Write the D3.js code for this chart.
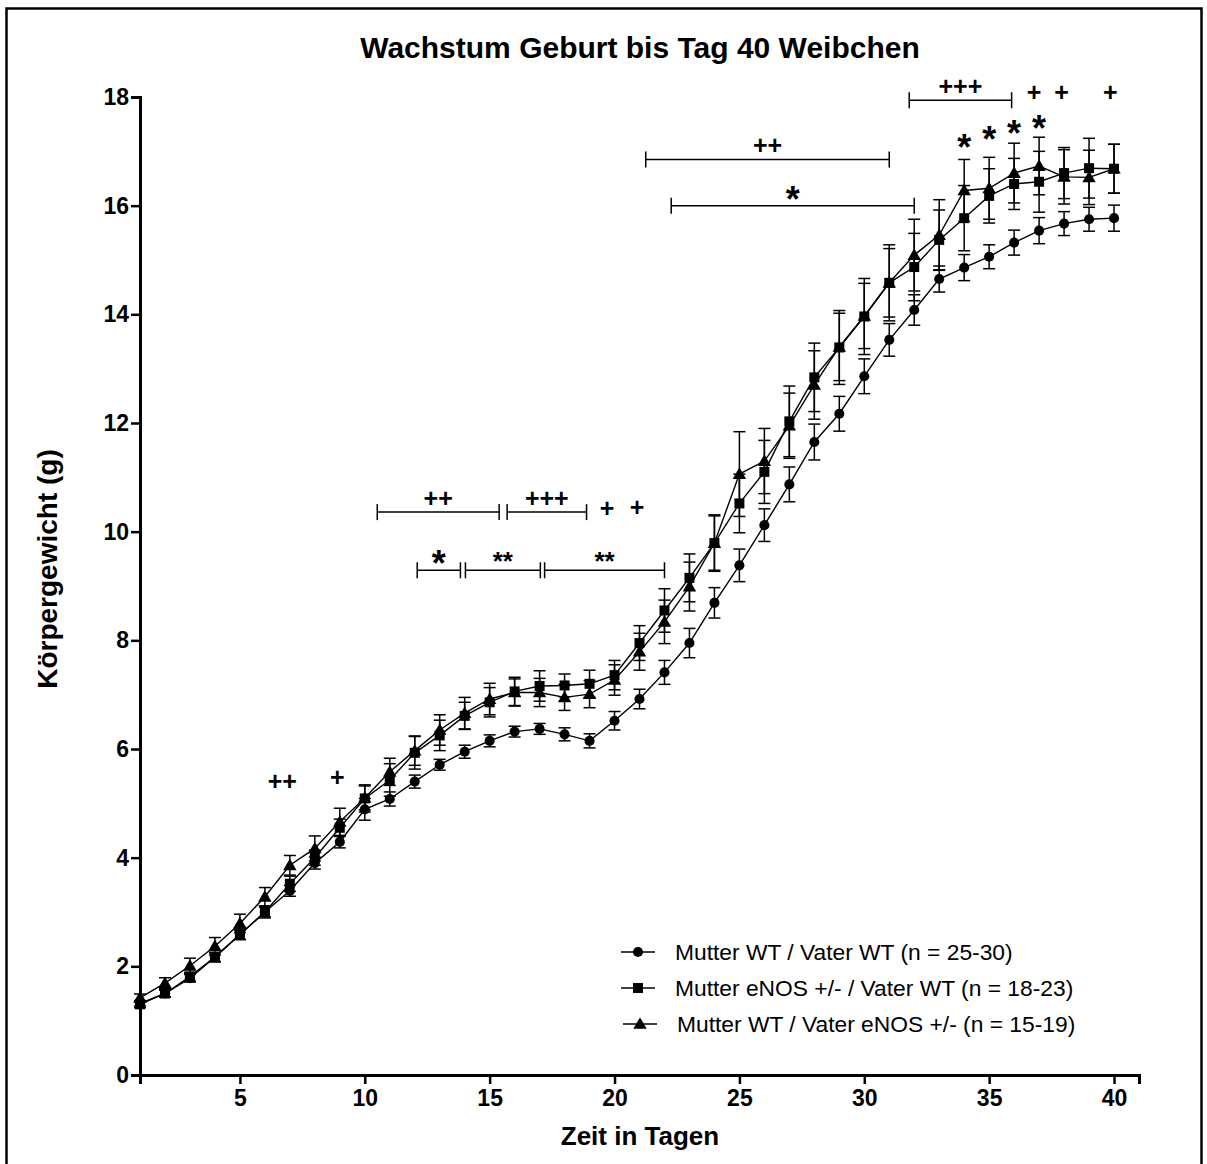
<!DOCTYPE html>
<html>
<head>
<meta charset="utf-8">
<script src="https://cdn.jsdelivr.net/npm/d3@7"></script>
<style>
  body { margin: 0; background: white; }
  text { font-family: "Liberation Sans", Arial, sans-serif; fill: black; }
</style>
</head>
<body>
<svg></svg>
<script>
const width = 1207
const height = 1164

const days = d3.range(1, 41)

const wt_mean = [1.32, 1.5, 1.78, 2.17, 2.58, 3.0, 3.39, 3.9, 4.29, 4.89,
  5.08, 5.4, 5.71, 5.95, 6.15, 6.32, 6.37, 6.27, 6.15, 6.52,
  6.92, 7.41, 7.95, 8.69, 9.38, 10.12, 10.87, 11.65, 12.17, 12.86,
  13.53, 14.08, 14.65, 14.86, 15.06, 15.32, 15.54, 15.67, 15.75, 15.77]
const wt_sem = [0.05, 0.06, 0.07, 0.08, 0.08, 0.09, 0.1, 0.11, 0.11, 0.2,
  0.13, 0.12, 0.1, 0.12, 0.11, 0.1, 0.1, 0.12, 0.13, 0.17,
  0.18, 0.22, 0.27, 0.28, 0.3, 0.3, 0.32, 0.33, 0.32, 0.32,
  0.3, 0.28, 0.24, 0.24, 0.22, 0.23, 0.24, 0.22, 0.22, 0.24]

const mother_mean = [1.3, 1.5, 1.81, 2.17, 2.59, 3.0, 3.52, 4.0, 4.55, 5.09,
  5.43, 5.93, 6.25, 6.61, 6.86, 7.06, 7.16, 7.17, 7.2, 7.36,
  7.95, 8.55, 9.15, 9.79, 10.52, 11.1, 12.03, 12.84, 13.39, 13.96,
  14.58, 14.87, 15.37, 15.77, 16.18, 16.4, 16.44, 16.6, 16.69, 16.68]
const mother_sem = [0.06, 0.07, 0.08, 0.09, 0.1, 0.11, 0.14, 0.14, 0.16, 0.25,
  0.3, 0.3, 0.28, 0.25, 0.27, 0.26, 0.28, 0.21, 0.25, 0.27,
  0.32, 0.4, 0.44, 0.5, 0.54, 0.58, 0.65, 0.63, 0.68, 0.7,
  0.7, 0.62, 0.55, 0.6, 0.5, 0.47, 0.56, 0.47, 0.55, 0.45]

const father_mean = [1.42, 1.69, 2.01, 2.37, 2.79, 3.28, 3.86, 4.17, 4.66, 5.1,
  5.58, 5.97, 6.35, 6.66, 6.92, 7.04, 7.04, 6.95, 7.01, 7.27,
  7.79, 8.34, 8.99, 9.79, 11.06, 11.3, 11.95, 12.7, 13.4, 13.97,
  14.58, 15.09, 15.46, 16.28, 16.32, 16.6, 16.73, 16.53, 16.52, 16.68]
const father_sem = [0.07, 0.1, 0.14, 0.16, 0.17, 0.17, 0.18, 0.23, 0.25, 0.22,
  0.25, 0.27, 0.28, 0.29, 0.29, 0.25, 0.26, 0.24, 0.25, 0.28,
  0.34, 0.4, 0.45, 0.52, 0.78, 0.6, 0.6, 0.63, 0.62, 0.6,
  0.63, 0.66, 0.65, 0.57, 0.57, 0.55, 0.53, 0.5, 0.5, 0.45]

const series_names = ["Mutter WT / Vater WT (n = 25-30)",
  "Mutter eNOS +/- / Vater WT (n = 18-23)",
  "Mutter WT / Vater eNOS +/- (n = 15-19)"]
const series_symbols = ["circle", "square", "triangle"]

const x_ticks = [5, 10, 15, 20, 25, 30, 35, 40]
const y_ticks = [0, 2, 4, 6, 8, 10, 12, 14, 16, 18]

// significance brackets: [from day, to day, level in g, label]
const brackets = [
  [10.5, 15.38, 10.36, "++"],
  [15.7, 18.88, 10.36, "+++"],
  [12.1, 13.83, 9.29, "*"],
  [14.03, 17.03, 9.29, "**"],
  [17.2, 22.0, 9.29, "**"],
  [21.25, 31.0, 16.85, "++"],
  [22.27, 32.0, 16.0, "*"],
  [31.8, 35.9, 17.94, "+++"]
]
// single marks: [day, level in g, label]
const marks = [
  [6.7, 5.25, "++"], [8.9, 5.31, "+"],
  [19.7, 10.27, "+"], [20.9, 10.29, "+"],
  [36.8, 17.92, "+"], [37.9, 17.92, "+"], [39.85, 17.92, "+"],
  [34, 17.09, "*"], [35, 17.24, "*"], [36, 17.36, "*"], [37, 17.45, "*"]
]

let x_scale = d3.scaleLinear([1, 41], [140, 1139])
let y_scale = d3.scaleLinear([0, 18], [1075, 97])

let svg = d3.select("svg")
  .attr("width", width)
  .attr("height", height)

svg.append("rect")
  .attr("x", 6.5).attr("y", 8.5)
  .attr("width", 1195).attr("height", 1175)
  .style("fill", "none").style("stroke", "black").style("stroke-width", 2.5)

svg.append("text")
  .attr("x", 640).attr("y", 58)
  .attr("text-anchor", "middle")
  .style("font-size", "30px").style("font-weight", "bold")
  .text("Wachstum Geburt bis Tag 40 Weibchen")

// axes
let x_axis = svg.append("g")
  .attr("transform", "translate(0,1075)")
  .call(d3.axisBottom(x_scale).tickValues(x_ticks).tickSize(9).tickPadding(6))
let y_axis = svg.append("g")
  .attr("transform", "translate(140,0)")
  .call(d3.axisLeft(y_scale).tickValues(y_ticks).tickSize(9).tickPadding(2))

;[x_axis, y_axis].forEach(a => {
  a.select(".domain").style("stroke", "black").style("stroke-width", 3)
  a.selectAll(".tick line").style("stroke", "black").style("stroke-width", 2.5)
  a.selectAll(".tick text")
    .style("font-family", '"Liberation Sans", Arial, sans-serif')
    .style("font-size", "23px").style("font-weight", "bold")
})

svg.append("text")
  .attr("x", 640).attr("y", 1145)
  .attr("text-anchor", "middle")
  .style("font-size", "26px").style("font-weight", "bold")
  .text("Zeit in Tagen")

svg.append("text")
  .attr("transform", "translate(57,569) rotate(-90)")
  .attr("text-anchor", "middle")
  .style("font-size", "28px").style("font-weight", "bold")
  .text("Körpergewicht (g)")

// symbols
let symbol_path = (name, size) => {
  let type = { circle: d3.symbolCircle, square: d3.symbolSquare, triangle: d3.symbolTriangle }[name]
  return d3.symbol(type, size)()
}
let symbol_size = { circle: 80, square: 100, triangle: 78 }

let series = [
  { mean: wt_mean, sem: wt_sem, symbol: "circle" },
  { mean: mother_mean, sem: mother_sem, symbol: "square" },
  { mean: father_mean, sem: father_sem, symbol: "triangle" }
]

let cap = 6
series.forEach(s => {
  let g = svg.append("g")
  days.forEach((d, i) => {
    let x = x_scale(d)
    let yt = y_scale(s.mean[i] + s.sem[i])
    let yb = y_scale(s.mean[i] - s.sem[i])
    g.append("line").attr("x1", x).attr("x2", x).attr("y1", yt).attr("y2", yb)
      .style("stroke", "black").style("stroke-width", 1.5)
    ;[yt, yb].forEach(y => {
      g.append("line").attr("x1", x - cap).attr("x2", x + cap).attr("y1", y).attr("y2", y)
        .style("stroke", "black").style("stroke-width", 1.5)
    })
  })
})

series.forEach(s => {
  let line = d3.line().x((d, i) => x_scale(d)).y((d, i) => y_scale(s.mean[i]))
  svg.append("path")
    .attr("d", line(days))
    .style("fill", "none").style("stroke", "black").style("stroke-width", 1.4)
})

series.forEach(s => {
  svg.append("g").selectAll("path")
    .data(days)
    .join("path")
    .attr("d", symbol_path(s.symbol, symbol_size[s.symbol]))
    .attr("transform", (d, i) => `translate(${x_scale(d)},${y_scale(s.mean[i]) + (s.symbol === "triangle" ? 1 : 0)})`)
    .style("fill", "black")
})

// significance
let star_text = (x, y, label) => {
  let big = label === "*"
  let small = label === "**"
  svg.append("text")
    .attr("x", x)
    .attr("y", y + (big ? 14 : small ? 8 : 0))
    .attr("text-anchor", "middle")
    .style("font-size", big ? "36px" : small ? "26px" : "25px")
    .style("font-weight", "bold")
    .text(label)
}

brackets.forEach(([a, b, level, label]) => {
  let y = y_scale(level)
  let x1 = x_scale(a), x2 = x_scale(b)
  svg.append("line").attr("x1", x1).attr("x2", x2).attr("y1", y).attr("y2", y)
    .style("stroke", "black").style("stroke-width", 1.5)
  ;[x1, x2].forEach(x => {
    svg.append("line").attr("x1", x).attr("x2", x).attr("y1", y - 8).attr("y2", y + 8)
      .style("stroke", "black").style("stroke-width", 1.5)
  })
  star_text((x1 + x2) / 2, label.startsWith("+") ? y - 5 : y - 8, label)
})

marks.forEach(([d, level, label]) => {
  star_text(x_scale(d), y_scale(level), label)
})

// legend
let legend_rows = [952, 988, 1024]
series_names.forEach((name, i) => {
  let y = legend_rows[i]
  let dx = i === 2 ? 2 : 0
  svg.append("line").attr("x1", 621 + dx).attr("x2", 655 + dx).attr("y1", y).attr("y2", y)
    .style("stroke", "black").style("stroke-width", 1.4)
  svg.append("path")
    .attr("d", symbol_path(series_symbols[i], symbol_size[series_symbols[i]]))
    .attr("transform", `translate(${638 + dx},${y + (i === 2 ? 1 : 0)})`)
    .style("fill", "black")
  svg.append("text")
    .attr("x", 675 + dx).attr("y", y + 8)
    .style("font-size", "22.8px")
    .text(name)
})
</script>
</body>
</html>
